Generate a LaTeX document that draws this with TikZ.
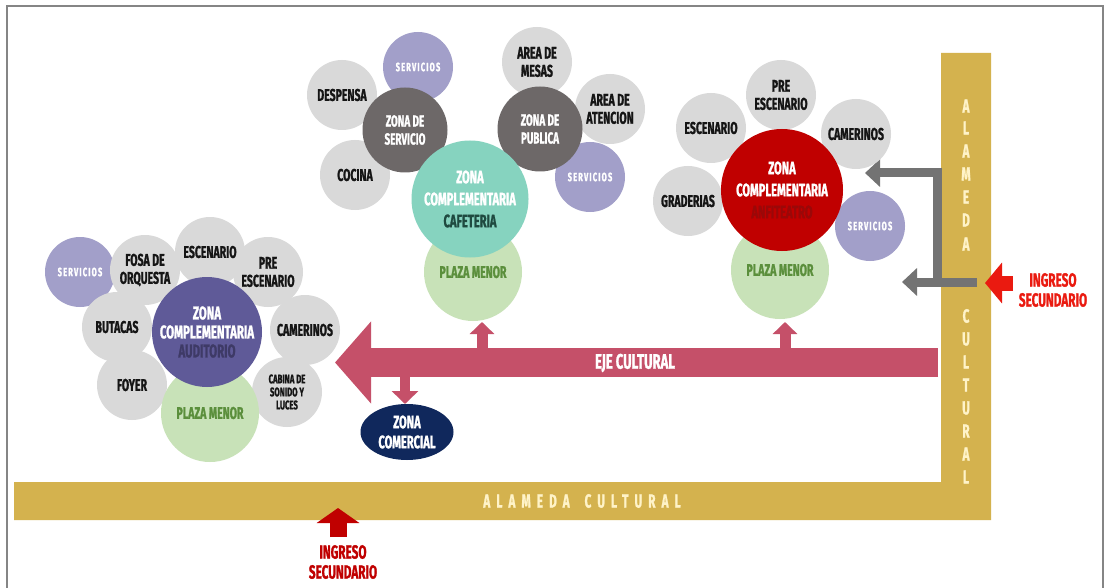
\documentclass[tikz,border=0pt]{standalone}
\usepackage{fontspec}
\newfontfamily\cf[FakeStretch=0.62,FakeBold=1.2]{Fira Sans}
\usetikzlibrary{arrows.meta,shapes.geometric}
\definecolor{cgray}{HTML}{D9D9D9}
\definecolor{lav}{HTML}{A29FC9}
\definecolor{purp}{HTML}{5F5A98}
\definecolor{audt}{HTML}{3E3A66}
\definecolor{pgreen}{HTML}{C8E2B8}
\definecolor{plzt}{HTML}{5B8F3C}
\definecolor{tealc}{HTML}{86D3BF}
\definecolor{cafet}{HTML}{1F4A40}
\definecolor{darkz}{HTML}{6D6868}
\definecolor{redz}{HTML}{C00000}
\definecolor{anft}{HTML}{9A0808}
\definecolor{navy}{HTML}{10285C}
\definecolor{pinkc}{HTML}{C55069}
\definecolor{gold}{HTML}{D4B24E}
\definecolor{cream}{HTML}{FFF3C8}
\definecolor{grayarr}{HTML}{737373}
\definecolor{brightred}{HTML}{EA1A10}
\definecolor{darkred}{HTML}{C00000}
\definecolor{framec}{HTML}{858585}
\definecolor{txtc}{HTML}{151515}
\begin{document}
\begin{tikzpicture}[x=1pt,y=-1pt,
  lab/.style={circle,inner sep=0pt,align=center,font=\cf\bfseries\fontsize{17}{18}\selectfont},
  room/.style={lab,fill=cgray,minimum size=70pt,text=txtc},
  serv/.style={lab,fill=lav,minimum size=70pt,text=white,font=\cf\bfseries\fontsize{12}{12}\selectfont\addfontfeature{LetterSpace=10}},
  plaza/.style={lab,fill=pgreen,minimum size=98pt,text=plzt},
  zone/.style={lab,minimum size=#1,text=white,font=\cf\bfseries\fontsize{18.5}{19}\selectfont},
  subz/.style={lab,fill=darkz,minimum size=85pt,text=white,font=\cf\bfseries\fontsize{16}{18}\selectfont},
  roadtxt/.style={text=cream,font=\cf\bfseries\fontsize{19}{19}\selectfont},
  vlet/.style={text=cream,font=\cf\bfseries\fontsize{19}{19}\selectfont,inner sep=0pt},
  ingtxt/.style={align=center,font=\cf\bfseries\fontsize{19}{20}\selectfont}
]
\useasboundingbox (0,0) rectangle (1105,588);
\fill[white] (0,0) rectangle (1105,588);
\draw[framec,line width=2pt] (7,588) -- (7,6) -- (1103,6) -- (1103,588);

% road
\fill[gold] (14,482) -- (941,482) -- (941,53) -- (991,53) -- (991,520) -- (14,520) -- cycle;
\node[roadtxt] (alh) at (582,501) {\addfontfeature{LetterSpace=32}ALAMEDA\hspace{6pt} CULTURAL};
\foreach \l/\yy [count=\i] in {A/106,L/128,A/151,M/174,E/197,D/220,A/244,C/316,U/339,L/362,T/385,U/408,R/431,A/454,L/477}
  \node[vlet] (v\i) at (966,\yy) {\l};

% gray arrows from the alameda
\coordinate (gv1) at (937,168.5);
\coordinate (gv2) at (937,286.5);
\coordinate (gt1) at (941.5,173);
\coordinate (gt2) at (865,173);
\coordinate (gb1) at (977,282);
\coordinate (gb2) at (902,282);
\draw[grayarr,line width=9pt] (gv1) -- (gv2);
\draw[grayarr,line width=9pt,-{Triangle[width=27pt,length=15pt]}] (gt1) -- (gt2);
\draw[grayarr,line width=9pt,-{Triangle[width=27pt,length=15pt]}] (gb1) -- (gb2);

% ingreso arrows
\coordinate (ir1) at (1013,283);
\coordinate (ir2) at (985,283);
\draw[brightred,line width=15pt,-{Triangle[width=40pt,length=17pt]}] (ir1) -- (ir2);
\node[ingtxt,text=brightred] (ingR) at (1053,290) {INGRESO\\SECUNDARIO};
\coordinate (ib1) at (338,537);
\coordinate (ib2) at (338,508);
\draw[darkred,line width=17pt,-{Triangle[width=42pt,length=15pt]}] (ib1) -- (ib2);
\node[ingtxt,text=darkred] (ingB) at (343,562) {INGRESO\\SECUNDARIO};

% eje cultural
\coordinate (up1a) at (482,350);
\coordinate (up1b) at (482,322);
\coordinate (up2a) at (785,350);
\coordinate (up2b) at (785,322);
\draw[pinkc,line width=11pt,-{Triangle[width=24pt,length=12pt]}] (up1a) -- (up1b);
\draw[pinkc,line width=11pt,-{Triangle[width=24pt,length=12pt]}] (up2a) -- (up2b);
\coordinate (ejeR) at (938,362.5);
\coordinate (ejeL) at (335,362.5);
\draw[pinkc,line width=29pt,-{Triangle[width=80pt,length=36pt]}] (ejeR) -- (ejeL);
\node[text=white,font=\cf\bfseries\fontsize{21}{21}\selectfont] (eje) at (635,363) {EJE CULTURAL};
\coordinate (dn1) at (405,376);
\coordinate (dn2) at (405,404);
\draw[pinkc,line width=10pt,-{Triangle[width=26pt,length=13pt]}] (dn1) -- (dn2);
\node[ellipse,fill=navy,minimum width=93pt,minimum height=56pt,inner sep=0pt,align=center,text=white,font=\cf\bfseries\fontsize{18}{20}\selectfont] (com) at (407,432) {ZONA\\COMERCIAL};

% auditorio cluster
\node[serv] (aserv) at (80,272) {SERVICIOS};
\node[room] (afosa) at (145,270) {FOSA DE\\ORQUESTA};
\node[room] (aesc) at (210,252) {ESCENARIO};
\node[room] (apre) at (268,272) {PRE\\ESCENARIO};
\node[room] (abut) at (117,327) {BUTACAS};
\node[room] (acam) at (305,330) {CAMERINOS};
\node[room] (afoy) at (132,385) {FOYER};
\node[room,font=\cf\bfseries\fontsize{12.5}{13}\selectfont] (acab) at (287,392) {CABINA DE\\SONIDO Y\\LUCES};
\node[plaza] (aplz) at (210,413) {PLAZA MENOR};
\node[zone=110pt,fill=purp] (azone) at (207,332) {ZONA\\COMPLEMENTARIA\\\textcolor{audt}{AUDITORIO}};

% cafeteria cluster
\node[room] (cdes) at (342,95) {DESPENSA};
\node[room] (ccoc) at (355,175) {COCINA};
\node[serv] (cserv1) at (418,67) {SERVICIOS};
\node[room] (cmes) at (537,62) {AREA DE\\MESAS};
\node[room] (cate) at (610,109) {AREA DE\\ATENCION};
\node[serv] (cserv2) at (590,177) {SERVICIOS};
\node[plaza] (cplz) at (473,272) {PLAZA MENOR};
\node[subz] (czs) at (405,130) {ZONA DE\\SERVICIO};
\node[subz] (czp) at (540,129) {ZONA DE\\PUBLICA};
\node[zone=117pt,fill=tealc,font=\cf\bfseries\fontsize{18}{22}\selectfont] (czone) at (470,199) {ZONA\\COMPLEMENTARIA\\\textcolor{cafet}{CAFETERIA}};

% anfiteatro cluster
\node[room] (fpre) at (781,95) {PRE\\ESCENARIO};
\node[room] (fesc) at (711,128) {ESCENARIO};
\node[room] (fcam) at (856,134) {CAMERINOS};
\node[room] (fgra) at (688,201) {GRADERIAS};
\node[serv] (fserv) at (870,226) {SERVICIOS};
\node[plaza] (fplz) at (780,270) {PLAZA MENOR};
\node[zone=122pt,fill=redz,font=\cf\bfseries\fontsize{18}{22}\selectfont] (fzone) at (782,190) {ZONA\\COMPLEMENTARIA\\\textcolor{anft}{ANFITEATRO}};
\end{tikzpicture}
\end{document}
